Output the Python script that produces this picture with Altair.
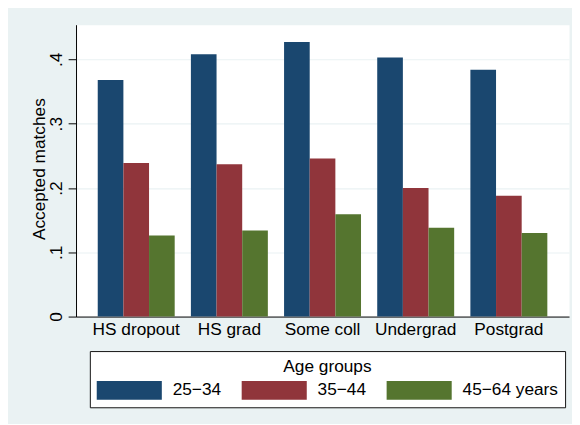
import altair as alt
import pandas as pd

categories = ["HS dropout", "HS grad", "Some coll", "Undergrad", "Postgrad"]
groups = ["25\u221234", "35\u221244", "45\u221264 years"]
age_25_34 = [0.368, 0.408, 0.427, 0.403, 0.384]
age_35_44 = [0.239, 0.237, 0.246, 0.200, 0.188]
age_45_64 = [0.126, 0.134, 0.159, 0.138, 0.130]
colors = ["#1A476F", "#90353B", "#55752F"]
y_ticks = [0, 0.1, 0.2, 0.3, 0.4]

rows = []
for g, vals in zip(groups, [age_25_34, age_35_44, age_45_64]):
    for c, v in zip(categories, vals):
        rows.append({"edu": c, "age": g, "value": v})
df = pd.DataFrame(rows)

FONT = "Liberation Sans, Arial, Helvetica, sans-serif"

chart = alt.Chart(df).mark_bar().encode(
    x=alt.X(
        "edu:N",
        sort=categories,
        title=None,
        scale=alt.Scale(paddingInner=0.174, paddingOuter=0.233),
        axis=alt.Axis(
            labelAngle=0,
            ticks=False,
            tickSize=0,
            labelPadding=4,
            labelFontSize=17.5,
            labelBaseline="top",
            domainColor="#000000",
            domainWidth=1,
            grid=False,
        ),
    ),
    xOffset=alt.XOffset("age:N", sort=groups, scale=alt.Scale(paddingInner=0, paddingOuter=0)),
    y=alt.Y(
        "value:Q",
        title="Accepted matches",
        scale=alt.Scale(domain=[0, 0.454], nice=False, zero=True),
        axis=alt.Axis(
            values=y_ticks,
            labelExpr="datum.value == 0 ? '0' : replace(format(datum.value, '.1f'), '0.', '.')",
            labelAngle=270,
            labelAlign="center",
            labelBaseline="bottom",
            labelPadding=3,
            labelFontSize=17.5,
            tickSize=8,
            tickColor="#000000",
            tickWidth=1,
            domainColor="#000000",
            domainWidth=1,
            grid=True,
            gridColor="#EAF2F3",
            gridWidth=1.2,
            titleFontSize=17.5,
            titleFontWeight="normal",
            titleAngle=270,
            titleAlign="center",
            titleBaseline="bottom",
            titleX=-28,
            titleY=146,
        ),
    ),
    color=alt.Color(
        "age:N",
        sort=groups,
        scale=alt.Scale(domain=groups, range=colors),
        legend=alt.Legend(
            title="Age groups",
            orient="none",
            legendX=14,
            legendY=331,
            direction="horizontal",
            columns=3,
            columnPadding=20,
            padding=7,
            titlePadding=5,
            titleFontSize=17.5,
            titleFontWeight="normal",
            titleAnchor="middle",
            titleAlign="center",
            titleColor="#000000",
            labelFontSize=17.5,
            labelColor="#000000",
            symbolType="M-3.3,-0.95L3.3,-0.95L3.3,0.95L-3.3,0.95Z",
            symbolSize=400,
            symbolStrokeWidth=0,
            symbolOffset=23,
            labelOffset=34,
            strokeColor="#111111",
            fillColor="#FFFFFF",
            gridAlign="each",
        ),
    ),
).properties(
    width=500,
    height=296,
    autosize=alt.AutoSizeParams(type="none"),
    padding={"left": 69, "top": 14, "right": 3, "bottom": 106},
    background="#EAF2F3",
).configure(
    font=FONT,
).configure_axis(
    labelColor="#000000",
    titleColor="#000000",
    labelFont=FONT,
    titleFont=FONT,
).configure_legend(
    labelFont=FONT,
    titleFont=FONT,
).configure_view(
    fill="#FFFFFF",
    stroke="transparent",
)

chart.save("out.html", embed_options={"renderer": "svg", "actions": False})
